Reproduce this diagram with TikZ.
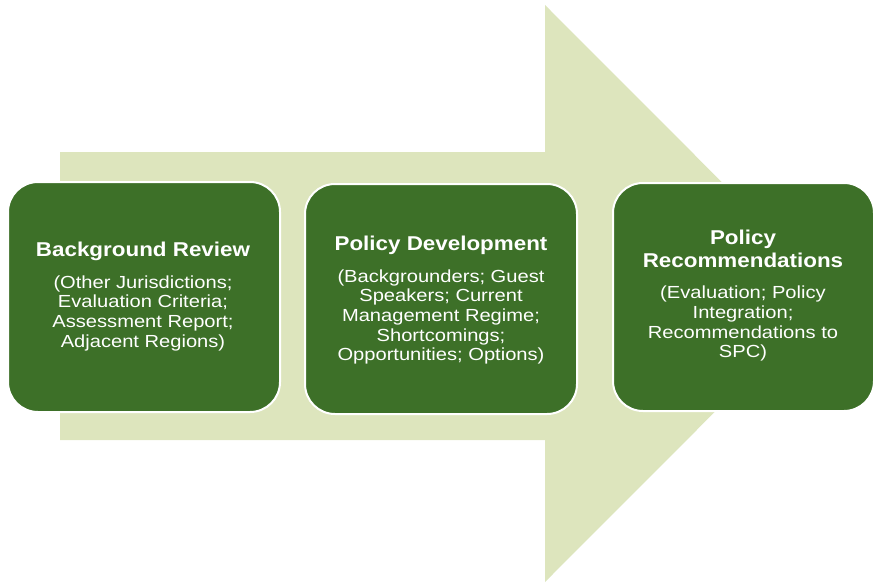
\documentclass[tikz,border=0pt]{standalone}
\usepackage{fontspec}
\setmainfont{Liberation Sans}
\newfontfamily\stagetitlefont[FakeStretch=1.12]{Liberation Sans}
\newfontfamily\stagebodyfont[FakeStretch=1.15]{Liberation Sans}
\begin{document}
\definecolor{stagegreen}{RGB}{61,112,40}
\definecolor{flowgreen}{RGB}{221,229,189}
\begin{tikzpicture}[x=1pt,y=-1pt,
  stagebox/.style={draw=white,line width=2pt,fill=stagegreen,rounded corners=30pt,
    minimum width=#1,inner sep=0pt},
  stagebox/.default=272pt,
  titletext/.style={text=white,anchor=north,inner sep=0pt,align=center,
    font=\stagetitlefont\fontsize{20}{23.5}\selectfont\bfseries},
  bodytext/.style={text=white,anchor=north,inner sep=0pt,align=center,
    font=\stagebodyfont\fontsize{17.5}{19.6}\selectfont}]
  \useasboundingbox (0,0) rectangle (875,583);
  % big process arrow in the background
  \fill[flowgreen] (60,152) -- (545,152) -- (545,5) -- (833,293.5) -- (545,582)
    -- (545,440) -- (60,440) -- cycle;
  % the three stages
  \node[stagebox=272pt,minimum height=230pt] (b1) at (144,297) {};
  \node[stagebox=272pt,minimum height=230pt] (b2) at (441,299) {};
  \node[stagebox=261pt,minimum height=228pt] (b3) at (743.5,297) {};
  \node[titletext] (t1) at (143,242) {Background Review};
  \node[bodytext] (d1) at (143,275.5) {(Other Jurisdictions;\\Evaluation Criteria;\\Assessment Report;\\Adjacent Regions)};
  \node[titletext] (t2) at (441,236) {Policy Development};
  \node[bodytext] (d2) at (441,269.5) {(Backgrounders; Guest\\Speakers; Current\\Management Regime;\\Shortcomings;\\Opportunities; Options)};
  \node[titletext] (t3) at (743,229.5) {Policy\\Recommendations};
  \node[bodytext] (d3) at (743,286) {(Evaluation; Policy\\Integration;\\Recommendations to\\SPC)};
\end{tikzpicture}
\end{document}
